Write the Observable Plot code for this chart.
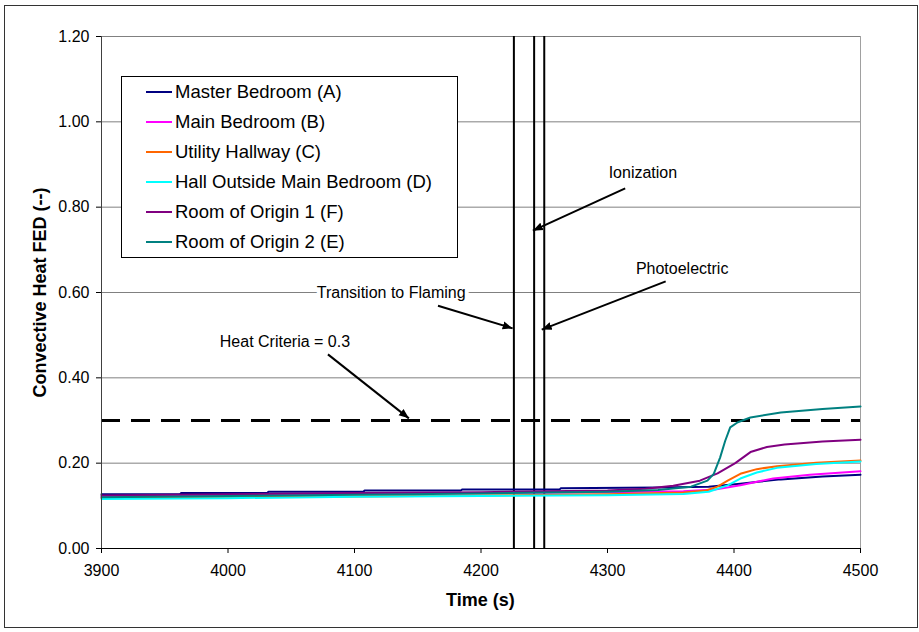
<!DOCTYPE html>
<html>
<head>
<meta charset="utf-8">
<script src="https://cdn.jsdelivr.net/npm/d3@7"></script>
<script src="https://cdn.jsdelivr.net/npm/@observablehq/plot@0.6"></script>
<style>
  html, body { margin: 0; padding: 0; background: #fff; }
  body { font-family: "Liberation Sans", Arial, sans-serif; }
  #wrap { position: relative; width: 919px; height: 632px; overflow: hidden; }
  #chart { position: absolute; left: 0; top: 0; }
  #frame { position: absolute; left: 4px; top: 5px; width: 912px; height: 621px; border: 1px solid #333; pointer-events: none; }
  #legend { position: absolute; left: 121px; top: 76px; width: 335px; height: 180px; border: 1px solid #000; background: #fff; }
  .row { position: absolute; left: 0; height: 30px; }
  .sw { position: absolute; left: 24px; width: 26px; height: 2px; }
  .lab { position: absolute; left: 53px; font-size: 18.5px; white-space: nowrap; color: #000; line-height: 30px; }
  .title { position: absolute; font-weight: bold; font-size: 18px; color: #000; white-space: nowrap; }
</style>
</head>
<body>
<div id="wrap">
  <div id="chart"></div>
  <div id="legend"></div>
  <div class="title" id="xtitle">Time (s)</div>
  <div class="title" id="ytitle">Convective Heat FED (--)</div>
  <div id="frame"></div>
</div>
<script>
// Series labels and line colours (legend order)
const seriesNames = [
  "Master Bedroom (A)",
  "Main Bedroom (B)",
  "Utility Hallway (C)",
  "Hall Outside Main Bedroom (D)",
  "Room of Origin 1 (F)",
  "Room of Origin 2 (E)"
];
const seriesColors = ["#000080", "#ff00ff", "#ff6600", "#00ffff", "#800080", "#008080"];

// Convective heat FED vs time, one time/value pair of arrays per location
const timeA = [3900, 3962, 3963, 4031, 4032, 4107, 4108, 4184, 4185, 4262, 4263, 4340, 4380, 4405, 4421, 4437, 4470, 4500];
const fedA  = [0.127, 0.127, 0.130, 0.130, 0.133, 0.133, 0.136, 0.136, 0.138, 0.138, 0.141, 0.143, 0.145, 0.152, 0.157, 0.162, 0.169, 0.173];

const timeB = [3900, 4000, 4100, 4200, 4300, 4360, 4385, 4405, 4421, 4431, 4460, 4500];
const fedB  = [0.122, 0.125, 0.128, 0.130, 0.132, 0.134, 0.138, 0.148, 0.158, 0.164, 0.173, 0.181];

const timeC = [3900, 4000, 4100, 4200, 4300, 4360, 4378, 4387, 4395, 4405, 4418, 4434, 4465, 4500];
const fedC  = [0.118, 0.120, 0.122, 0.124, 0.127, 0.131, 0.136, 0.145, 0.159, 0.175, 0.186, 0.193, 0.201, 0.206];

const timeD = [3900, 3960, 4000, 4100, 4200, 4300, 4360, 4380, 4395, 4405, 4418, 4434, 4465, 4500];
const fedD  = [0.116, 0.117, 0.118, 0.121, 0.123, 0.125, 0.128, 0.133, 0.148, 0.164, 0.178, 0.189, 0.198, 0.204];

const timeF = [3900, 4000, 4100, 4200, 4300, 4330, 4352, 4373, 4387, 4401, 4413, 4426, 4440, 4470, 4500];
const fedF  = [0.124, 0.127, 0.130, 0.132, 0.136, 0.140, 0.147, 0.159, 0.176, 0.200, 0.226, 0.238, 0.244, 0.251, 0.255];

const timeE = [3900, 4000, 4100, 4200, 4300, 4340, 4366, 4379, 4384, 4389, 4393, 4397, 4403, 4413, 4437, 4470, 4500];
const fedE  = [0.120, 0.123, 0.126, 0.129, 0.133, 0.137, 0.145, 0.159, 0.175, 0.213, 0.252, 0.284, 0.296, 0.307, 0.319, 0.327, 0.333];

const seriesTimes = [timeA, timeB, timeC, timeD, timeF, timeE];
const seriesValues = [fedA, fedB, fedC, fedD, fedF, fedE];

// Event times: transition to flaming, ionization alarm, photoelectric alarm
const eventTimes = [4226, 4242, 4250];
const heatCriterion = 0.3;

// Axis ticks
const xTicks = [3900, 4000, 4100, 4200, 4300, 4400, 4500];
const yTicks = [0, 0.2, 0.4, 0.6, 0.8, 1.0, 1.2];

// Callout labels and their leader arrows (data units)
const noteText = ["Ionization", "Photoelectric", "Transition to Flaming", "Heat Criteria = 0.3"];
const noteX = [4328, 4359, 4129, 4045];
const noteY = [0.881, 0.656, 0.600, 0.485];
const arrowX1 = [4314, 4346, 4166, 4079];
const arrowY1 = [0.844, 0.626, 0.569, 0.455];
const arrowX2 = [4241, 4248, 4225, 4143];
const arrowY2 = [0.745, 0.513, 0.516, 0.305];

const rows = seriesNames.flatMap((name, i) =>
  seriesTimes[i].map((t, j) => ({series: name, time: t, fed: seriesValues[i][j]}))
);
const notes = noteText.map((text, i) => ({text, x: noteX[i], y: noteY[i]}));
const arrows = noteText.map((text, i) => ({x1: arrowX1[i], y1: arrowY1[i], x2: arrowX2[i], y2: arrowY2[i]}));

// Filled triangular arrowhead
function solidHead(color, context) {
  const m = d3.create("svg:marker")
    .attr("viewBox", "-10 -5 10 10")
    .attr("markerWidth", 10)
    .attr("markerHeight", 10)
    .attr("markerUnits", "userSpaceOnUse")
    .attr("refX", 0)
    .attr("refY", 0)
    .attr("orient", "auto")
    .attr("fill", "black")
    .attr("stroke", "none");
  m.append("path").attr("d", "M-10,-4L0,0L-10,4Z");
  return m.node();
}

const chart = Plot.plot({
  width: 919,
  height: 632,
  marginLeft: 101,
  marginRight: 59,
  marginTop: 36,
  marginBottom: 84,
  style: {fontFamily: "'Liberation Sans', Arial, sans-serif", fontSize: "16px", color: "#000", background: "transparent"},
  x: {domain: [3900, 4500]},
  y: {domain: [0, 1.2]},
  color: {domain: seriesNames, range: seriesColors},
  marks: [
    Plot.ruleY(yTicks.filter(d => d > 0), {stroke: "#808080", strokeWidth: 1}),
    Plot.ruleX([4500], {stroke: "#a0a0a0", strokeWidth: 1}),
    Plot.ruleX(eventTimes, {stroke: "#000", strokeWidth: 2}),
    Plot.ruleY([heatCriterion], {stroke: "#000", strokeWidth: 3, strokeDasharray: "19,11"}),
    Plot.line(rows, {x: "time", y: "fed", z: "series", stroke: "series", strokeWidth: 2}),
    Plot.ruleX([3900], {stroke: "#404040", strokeWidth: 1}),
    Plot.ruleY([0], {stroke: "#000", strokeWidth: 1}),
    Plot.axisY({ticks: yTicks, tickFormat: d3.format(".2f"), tickSize: 5, tickPadding: 7, label: null, fontSize: 16}),
    Plot.axisX({ticks: xTicks, tickFormat: d3.format("d"), tickSize: 5, tickPadding: 11, label: null, fontSize: 16}),
    Plot.link(arrows, {x1: "x1", y1: "y1", x2: "x2", y2: "y2", stroke: "#000", strokeWidth: 2, markerEnd: solidHead}),
    Plot.text(notes, {x: "x", y: "y", text: "text", fontSize: 16, fill: "#000", stroke: "white", strokeWidth: 8})
  ]
});
document.getElementById("chart").appendChild(chart);

// Legend
const legend = document.getElementById("legend");
seriesNames.forEach((name, i) => {
  const row = document.createElement("div");
  row.className = "row";
  row.style.top = (i * 30) + "px";
  row.style.width = "100%";
  const sw = document.createElement("div");
  sw.className = "sw";
  sw.style.background = seriesColors[i];
  sw.style.top = "14px";
  const lab = document.createElement("div");
  lab.className = "lab";
  lab.style.top = "0px";
  lab.textContent = name;
  row.appendChild(sw);
  row.appendChild(lab);
  legend.appendChild(row);
});

// Axis titles
const xt = document.getElementById("xtitle");
xt.style.left = (480.5 - xt.offsetWidth / 2) + "px";
xt.style.top = (600 - xt.offsetHeight / 2) + "px";
const yt = document.getElementById("ytitle");
yt.style.left = (40 - yt.offsetWidth / 2) + "px";
yt.style.top = (292 - yt.offsetHeight / 2) + "px";
yt.style.transform = "rotate(-90deg)";
</script>
</body>
</html>
